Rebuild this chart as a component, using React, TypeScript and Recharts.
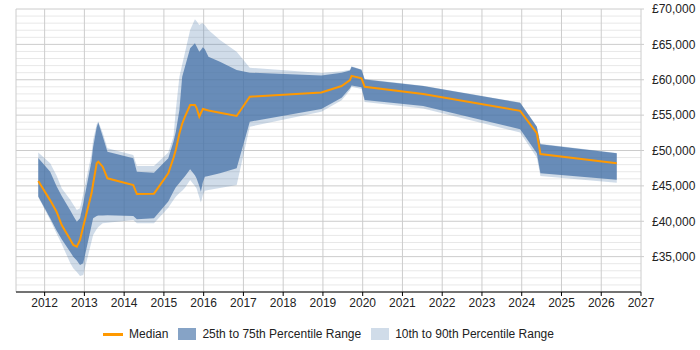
import { ComposedChart, Area, Line, XAxis, YAxis, CartesianGrid, Legend } from "recharts";

// salary percentiles by (fractional) year
const years = [
  2011.84, 2012.14, 2012.3, 2012.43, 2012.64, 2012.72, 2012.81, 2012.89, 2012.97, 2013.18,
  2013.22, 2013.31, 2013.35, 2013.46, 2013.58, 2014.23, 2014.32, 2014.75, 2015.11, 2015.24,
  2015.3, 2015.39, 2015.46, 2015.53, 2015.66, 2015.78, 2015.82, 2015.89, 2015.93, 2015.98,
  2016.03, 2016.12, 2016.41, 2016.83, 2017.16, 2018.96, 2019.47, 2019.68, 2019.72, 2019.97,
  2020.05, 2021.52, 2023.96, 2024.38, 2024.47, 2026.39,
];
const median = [
  45700, 42950, 41350, 39470, 37450, 36640, 36400, 37350, 39220, 43950,
  45310, 48190, 48420, 47710, 46070, 45120, 43850, 43900, 46780, 48940,
  50100, 52400, 53780, 54800, 56430, 56430, 56060, 54780, 55300, 55870,
  55800, 55650, 55340, 54880, 57600, 58200, 59120, 59950, 60550, 60200,
  59000, 58000, 55600, 52450, 49500, 48200,
];
const p25 = [
  43500, 40420, 38680, 37450, 35700, 35000, 34450, 33820, 34050, 39400,
  40420, 40740, 40800, 40800, 40850, 40740, 40270, 40420, 42800, 44210,
  44800, 45400, 45900, 46370, 47340, 46500, 46070, 45000, 44180, 45500,
  46300, 46400, 46780, 47480, 54070, 55870, 57450, 58800, 59200, 58950,
  57150, 56300, 53000, 49600, 46800, 45850,
];
const p75 = [
  48950, 47000, 44950, 43560, 41590, 40770, 39940, 40420, 42470, 48500,
  50500, 53300, 53950, 52000, 49830, 48900, 47000, 46860, 48900, 51230,
  52640, 55720, 60430, 61840, 64450, 65150, 64720, 63960, 64200, 64590,
  64300, 63260, 62550, 61380, 61000, 60600, 61000, 61300, 61850, 61400,
  60050, 59100, 56750, 53350, 50900, 49600,
];
const p10 = [
  43400, 40180, 38280, 36800, 34130, 33340, 32830, 32260, 32400, 37140,
  38060, 38900, 39200, 39710, 39800, 40180, 39710, 39710, 41900, 43000,
  43450, 44000, 44300, 44750, 45830, 45000, 44650, 43400, 42650, 43700,
  44300, 44400, 44700, 45120, 53360, 55480, 57100, 58500, 59000, 58700,
  56850, 55950, 52550, 49000, 46400, 45450,
];
const p90 = [
  49700, 48200, 46480, 44650, 43080, 42380, 41590, 41830, 43800, 49500,
  51500, 53700, 54100, 52500, 50310, 49360, 47810, 47810, 49700, 51950,
  55720, 60430, 62140, 63850, 67030, 68540, 68300, 67740, 67900, 68000,
  67700, 67030, 65620, 63960, 61700, 60950, 61200, 61400, 61900, 61450,
  60100, 59150, 56800, 53400, 50950, 49650,
];

const yearTicks = [2012, 2013, 2014, 2015, 2016, 2017, 2018, 2019, 2020, 2021, 2022, 2023, 2024, 2025, 2026, 2027];
const salaryTicks = [35000, 40000, 45000, 50000, 55000, 60000, 65000, 70000];
const minorSalaryTicks = [
  31000, 32000, 33000, 34000, 36000, 37000, 38000, 39000, 41000, 42000, 43000, 44000,
  46000, 47000, 48000, 49000, 51000, 52000, 53000, 54000, 56000, 57000, 58000, 59000,
  61000, 62000, 63000, 64000, 66000, 67000, 68000, 69000,
];
const salaryDomain = [30000, 70000];

const data = years.map((year, i) => ({
  year,
  median: median[i],
  inner: [p25[i], p75[i]],
  outer: [p10[i], p90[i]],
}));

const FONT = '"Liberation Sans", Arial, sans-serif';
const ORANGE = "#ff9900";
const BLUE = "#4572a7";

const formatSalary = (v: number) => "£" + v.toLocaleString("en-GB");

// pixel rows for the light 1k grid lines
const minorRows = ({ yAxis, offset }: any) => {
  const s = yAxis?.scale;
  return minorSalaryTicks.map((v) => {
    if (typeof s === "function") return s(v);
    if (s && typeof s.map === "function") return s.map(v);
    const [lo, hi] = salaryDomain;
    return offset.top + ((hi - v) / (hi - lo)) * offset.height;
  });
};

const LegendContent = () => (
  <div
    style={{
      display: "flex",
      justifyContent: "center",
      alignItems: "center",
      height: 28,
      paddingBottom: 4,
      boxSizing: "border-box",
      fontFamily: FONT,
      fontSize: 12,
      color: "#222",
    }}
  >
    <span style={{ width: 20, height: 3, background: ORANGE, marginRight: 6 }} />
    <span style={{ marginRight: 10 }}>Median</span>
    <span style={{ width: 18, height: 12, background: BLUE, opacity: 0.65, marginRight: 6 }} />
    <span style={{ marginRight: 10 }}>25th to 75th Percentile Range</span>
    <span style={{ width: 18, height: 12, background: BLUE, opacity: 0.25, marginRight: 6 }} />
    <span>10th to 90th Percentile Range</span>
  </div>
);

export default function App() {
  return (
    <div style={{ position: "absolute", left: 0, top: 0 }}>
      <ComposedChart width={700} height={350} data={data} margin={{ top: 9, right: 0, bottom: 0, left: 16 }}>
        {/* light 1k lines, then the 5k lines and year lines */}
        <CartesianGrid vertical={false} stroke="#e8e8e8" horizontalCoordinatesGenerator={minorRows} />
        <CartesianGrid stroke="#cccccc" />
        <XAxis
          dataKey="year"
          type="number"
          domain={[2011.28, 2027]}
          ticks={yearTicks}
          interval={0}
          height={30}
          axisLine={{ stroke: "#000" }}
          tickLine={{ stroke: "#000" }}
          tickSize={4}
          tickMargin={2}
          tick={{ fill: "#222", fontSize: 12, fontFamily: FONT }}
        />
        <YAxis
          orientation="right"
          type="number"
          domain={salaryDomain}
          ticks={salaryTicks}
          width={59}
          axisLine={false}
          tickLine={{ stroke: "#cccccc" }}
          tickSize={3}
          tickMargin={8}
          tickFormatter={formatSalary}
          tick={{ fill: "#222", fontSize: 12, fontFamily: FONT }}
        />
        <Area
          type="linear"
          dataKey="outer"
          stroke="none"
          fill={BLUE}
          fillOpacity={0.25}
          isAnimationActive={false}
          activeDot={false}
        />
        <Area
          type="linear"
          dataKey="inner"
          stroke="none"
          fill={BLUE}
          fillOpacity={0.75}
          isAnimationActive={false}
          activeDot={false}
        />
        <Line
          type="linear"
          dataKey="median"
          stroke={ORANGE}
          strokeWidth={2}
          dot={false}
          activeDot={false}
          isAnimationActive={false}
        />
        <Legend
          verticalAlign="bottom"
          height={28}
          wrapperStyle={{ left: 16, width: 625, bottom: 0 }}
          content={LegendContent}
        />
      </ComposedChart>
    </div>
  );
}
